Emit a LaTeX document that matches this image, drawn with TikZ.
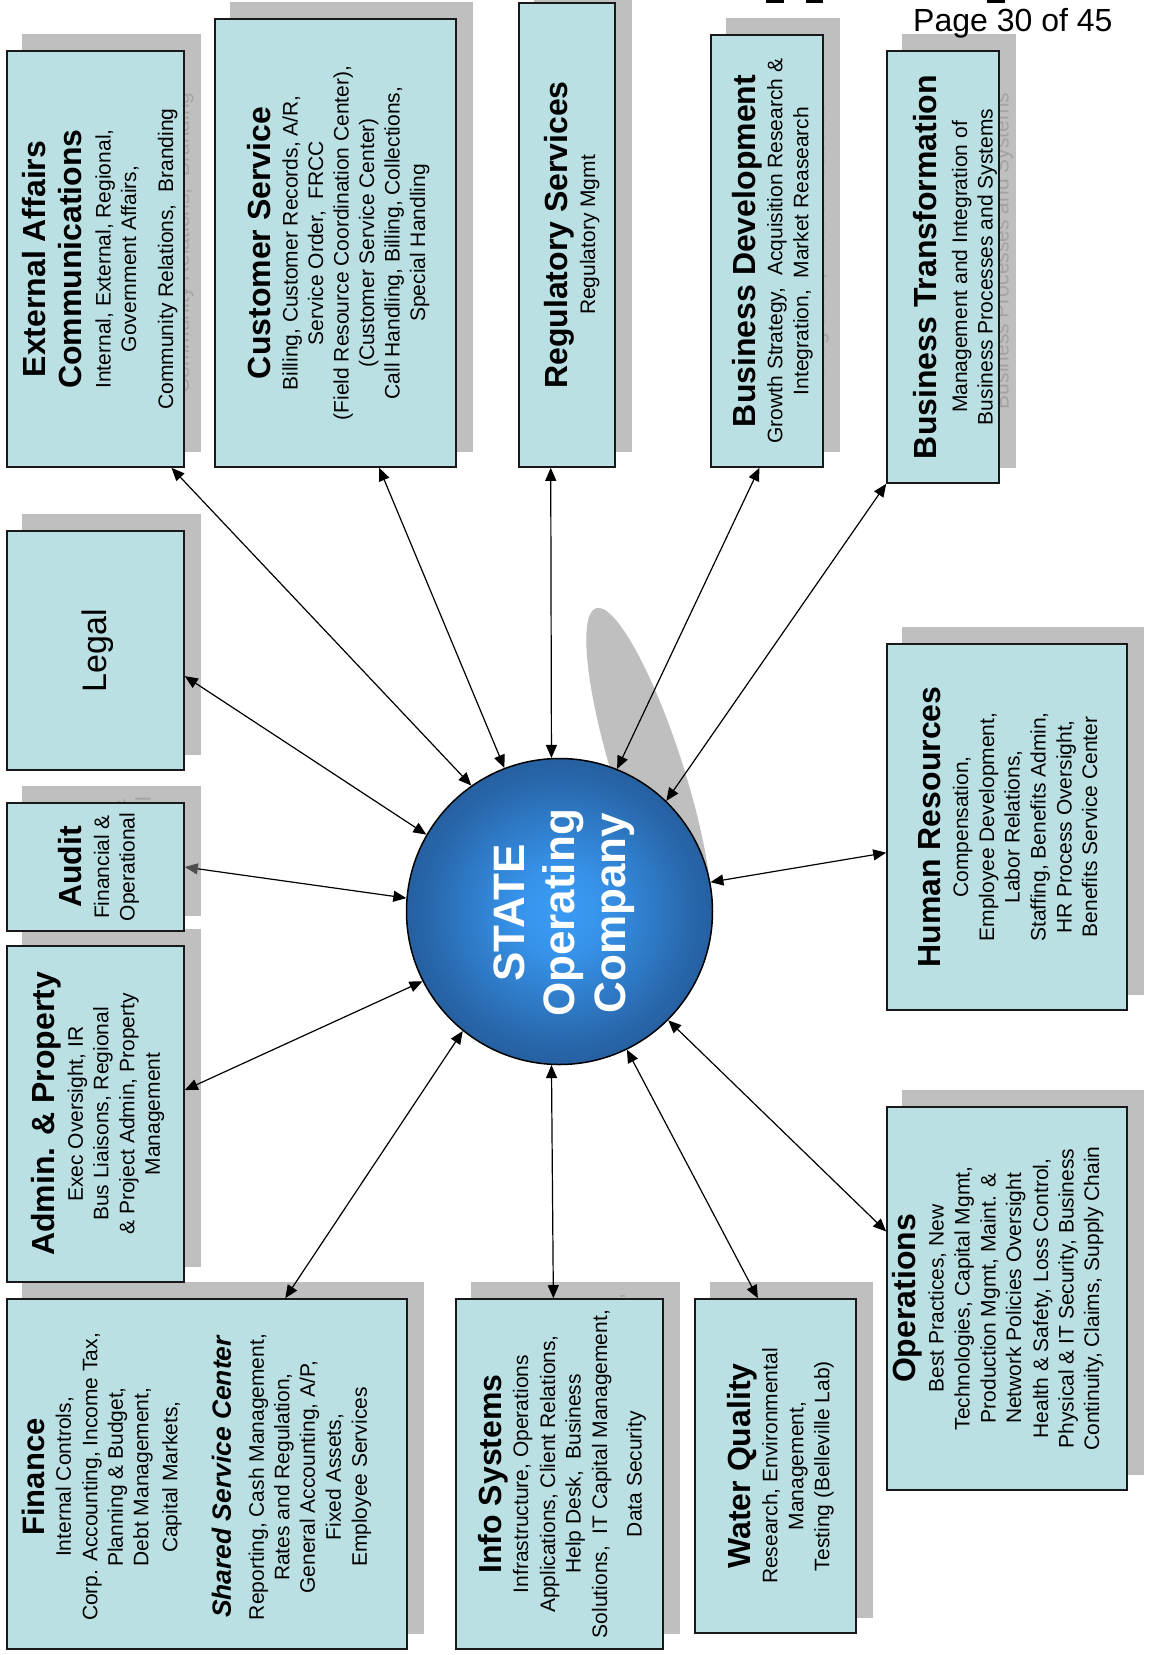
\documentclass[tikz,border=0pt]{standalone}
\usepackage{fontspec}
\setmainfont{Liberation Sans}
\usetikzlibrary{arrows.meta,calc}

\definecolor{unitfill}{HTML}{BBE0E3}
\definecolor{shadowc}{HTML}{BFBFBF}
\definecolor{ghostc}{HTML}{A3A3A3}
\definecolor{tipgray}{HTML}{4D4D4D}
\definecolor{socin}{HTML}{3A9BF5}
\definecolor{socmid}{HTML}{2866AA}
\definecolor{socout}{HTML}{1B4779}

\pgfdeclarelayer{paper}
\pgfdeclarelayer{shadowlayer}
\pgfsetlayers{paper,shadowlayer,main}

\pgfdeclareradialshading{socshade}{\pgfpoint{0bp}{0bp}}{%
  color(0bp)=(socin); color(7bp)=(socin!85!socmid); color(22bp)=(socmid);
  color(38bp)=(socout); color(50bp)=(socout)}

\newcommand{\bdfont}{\fontsize{21}{25.5}\selectfont}
\newcommand{\hdfont}{\fontsize{32}{38}\bfseries\selectfont}

% #1 name, #2 box centre, #3 width, #4 height, #5 text centre, #6 text
\newcommand{\orgunit}[6]{%
  \node[unitbox, minimum width=#3pt, minimum height=#4pt] (#1) at (#2) {};
  \node[unittext] (#1-t) at (#5) {#6};
  \begin{pgfonlayer}{shadowlayer}
    \fill[shadowc] ([shift={(16,-16)}]#1.south west) rectangle ([shift={(16,-16)}]#1.north east);
    \node[unittext, text=ghostc] (#1-g) at ([shift={(16,-16)}]#1-t.center) {#6};
  \end{pgfonlayer}}

\begin{document}
\begin{tikzpicture}[x=1pt, y=-1pt,
  unitbox/.style={rectangle, draw=black!90, line width=1.6pt, fill=unitfill, inner sep=0pt},
  unittext/.style={rotate=90, align=center, inner sep=0pt, font=\bdfont},
  link/.style={line width=1.2pt, arrows={Triangle[length=13pt,width=11pt]-Triangle[length=13pt,width=11pt]}}]

\begin{pgfonlayer}{paper}
  \fill[white] (0,0) rectangle (1149,1655);
\end{pgfonlayer}
\useasboundingbox (0,0) rectangle (1149,1655);

% header remnants and page number
\fill (766,0) rectangle (784,2.5);
\fill (806,0) rectangle (823,2.5);
\fill (987,0) rectangle (1005,2.5);
\node[anchor=base west, inner sep=0pt, font=\fontsize{32}{38}\selectfont] (pg) at (913,31) {Page 30 of 45};

% top row
\orgunit{ea}{95.5,259}{177}{416}{99.7,259}{%
  {\hdfont External Affairs}\\[11pt]
  {\hdfont Communications}\\[3.6pt]
  Internal, External, Regional,\\
  Government Affairs,\\[11.4pt]
  Community Relations,\ \ Branding}
\orgunit{cs}{335.5,243}{241}{448}{338.2,243}{%
  {\hdfont Customer Service}\\[2.2pt]
  Billing, Customer Records, A/R,\\
  Service Order,\ \ FRCC\\
  (Field Resource Coordination Center),\\
  (Customer Service Center)\\
  Call Handling, Billing, Collections,\\
  Special Handling}
\orgunit{reg}{567,235}{96}{464}{571.9,235}{%
  {\hdfont Regulatory Services}\\[2.2pt]
  Regulatory Mgmt}
\orgunit{bd}{767,251}{112}{432}{772.5,251}{%
  {\hdfont Business Development}\\[1.5pt]
  Growth Strategy,\ \ Acquisition Research \&\\[0.5pt]
  Integration,\ \ Market Reasearch}
\orgunit{bt}{943,267}{112}{432}{955,267}{%
  {\hdfont Business Transformation}\\[5.5pt]
  Management and Integration of\\
  Business Processes and Systems}

% left column
\orgunit{legal}{95.5,650.5}{177}{239}{98,651}{%
  {\fontsize{34}{40}\selectfont Legal}}
\orgunit{audit}{95.5,867}{177}{128}{98.9,867}{%
  {\hdfont Audit}\\[1.8pt]
  Financial \&\\
  Operational}
\orgunit{admin}{95.5,1114}{177}{336}{98,1114}{%
  {\hdfont Admin. \& Property}\\[2.5pt]
  Exec Oversight, IR\\
  Bus Liaisons, Regional\\[0.5pt]
  \& Project Admin, Property\\
  Management}

% bottom row
\orgunit{fin}{207,1474}{400}{350}{196.7,1477}{%
  {\fontsize{31}{36}\bfseries\selectfont Finance}\\[0.5pt]
  Internal Controls,\\[1pt]
  Corp. Accounting, Income Tax,\\
  Planning \& Budget,\\
  Debt Management,\\[3.5pt]
  Capital Markets,\\[28pt]
  {\fontsize{26.4}{30}\bfseries\itshape\selectfont Shared Service Center}\\[7.5pt]
  Reporting, Cash Management,\\
  Rates and Regulation,\\
  General Accounting, A/P,\\[0.5pt]
  Fixed Assets,\\[0.5pt]
  Employee Services}
\orgunit{info}{559.5,1474}{207}{350}{562,1474}{%
  {\hdfont Info Systems}\\[1.5pt]
  Infrastructure, Operations\\[1.5pt]
  Applications, Client Relations,\\
  Help Desk,\ \ Business\\[1pt]
  Solutions,\ \ IT Capital Management,\\[9pt]
  Data Security}
\orgunit{wq}{775.5,1466}{161}{334}{780.5,1466}{%
  {\hdfont Water Quality}\\[1.5pt]
  Research, Environmental\\[0.5pt]
  Management,\\[0.5pt]
  Testing (Belleville Lab)}

% right column
\orgunit{ops}{1007,1298.5}{240}{383}{998,1298.5}{%
  {\hdfont Operations}\\[2.5pt]
  Best Practices, New\\[0.5pt]
  Technologies, Capital Mgmt,\\[0.5pt]
  Production Mgmt, Maint. \&\\
  Network Policies Oversight\\[1.5pt]
  Health \& Safety, Loss Control,\\
  Physical \& IT Security, Business\\
  Continuity, Claims, Supply Chain}
\orgunit{hr}{1007,827}{240}{366}{1007.8,827}{%
  {\hdfont Human Resources}\\[2.5pt]
  Compensation,\\[0.5pt]
  Employee Development,\\
  Labor Relations,\\[0.5pt]
  Staffing, Benefits Admin,\\[0.5pt]
  HR Process Oversight,\\
  Benefits Service Center}

% central company
\begin{pgfonlayer}{shadowlayer}
  \fill[shadowc, rotate around={17.6:(649,775)}] (649,775) ellipse [x radius=35.3pt, y radius=175pt];
\end{pgfonlayer}
\node[circle, draw=black, line width=1.5pt, shading=socshade, minimum size=306pt, inner sep=0pt] (soc) at (559.5,911.5) {};
\node[rotate=90, align=center, inner sep=0pt, text=white,
      font=\fontsize{44}{50.5}\bfseries\selectfont] (soc-t) at (564,913) {STATE\\Operating\\Company};

% connectors
\draw[link] (ea.-70.6) -- (soc.125.3);
\draw[link] (cs.-79.6) -- (soc.111.1);
\draw[link] (reg.-94.0) -- (soc.93.3);
\draw[link] (bd.-92.5) -- (soc.68.2);
\draw[link] (bt.south west) -- (soc.46.5);
\draw[link] (legal.-16.9) -- (soc.150.6);
\draw[line width=1.2pt, arrows={Triangle[length=13pt,width=11pt,color=tipgray]-Triangle[length=13pt,width=11pt]}]
  (audit.-0.8) -- (soc.175.5);
\draw[link] (admin.15.8) -- (soc.207);
\draw[link] (fin.66.6) -- (soc.231.3);
\draw[link] (info.92.8) -- (soc.267);
\draw[link] (wq.96.1) -- (soc.296.3);
\draw[link] (ops.151.2) -- (soc.315.8);
\draw[link] (hr.192) -- (soc.11);
\end{tikzpicture}
\end{document}
